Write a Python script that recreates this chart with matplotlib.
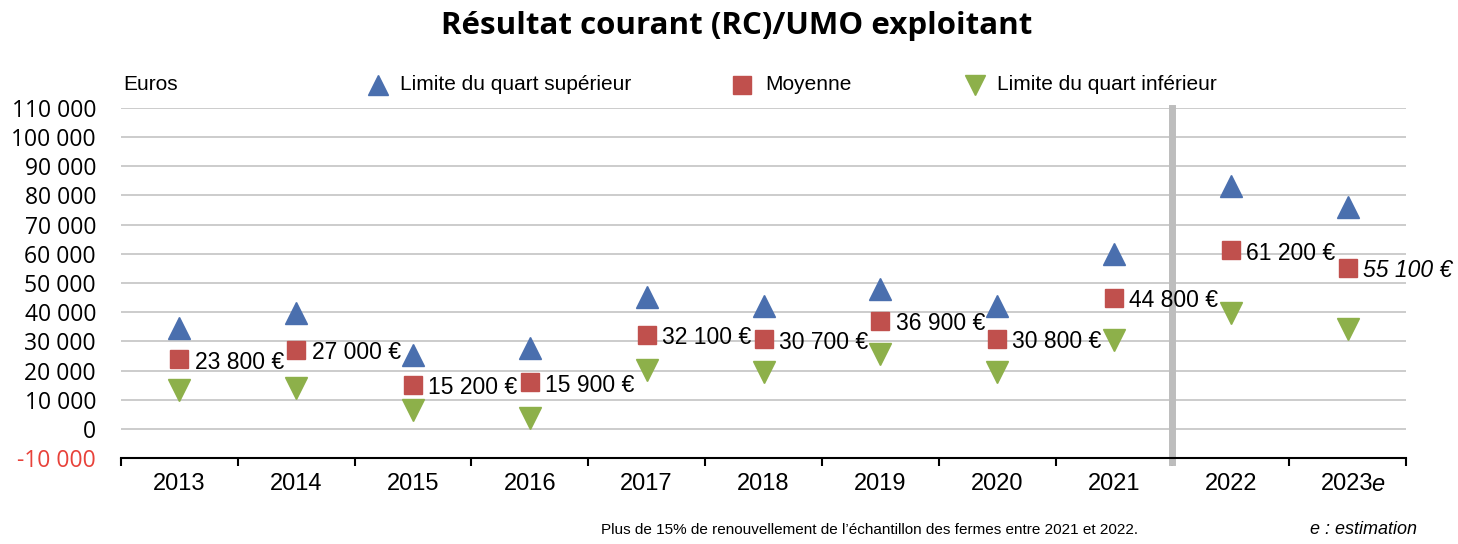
import numpy as np
import matplotlib.pyplot as plt

years = ['2013', '2014', '2015', '2016', '2017', '2018', '2019', '2020', '2021', '2022', '2023']
quart_sup = [34600, 39700, 25300, 27700, 45200, 42100, 47900, 42100, 59900, 83200, 76000]
moyenne = [23800, 27000, 15200, 15900, 32100, 30700, 36900, 30800, 44800, 61200, 55100]
quart_inf = [13400, 14000, 6500, 3800, 20200, 19500, 25700, 19500, 30500, 39700, 34200]
yticks = list(range(-10000, 110001, 10000))

BLUE = '#4a6fae'
RED = '#c0504d'
GREEN = '#8db04a'

def fr(v):
    return f'{v:,}'.replace(',', ' ')

fig = plt.figure(figsize=(14.58, 5.44), dpi=100)
ax = fig.add_axes([121 / 1458, 1 - 458 / 544, (1406 - 121) / 1458, (458 - 108) / 544])

x = np.arange(len(years))
ax.plot(x, quart_sup, ls='none', marker='^', ms=16, color=BLUE, zorder=3)
ax.plot(x, moyenne, ls='none', marker='s', ms=13.5, color=RED, zorder=3)
ax.plot(x, quart_inf, ls='none', marker='v', ms=16, color=GREEN, zorder=3)

# etiquettes des moyennes
for i, v in enumerate(moyenne):
    style = 'italic' if i == len(moyenne) - 1 else 'normal'
    ax.annotate(fr(v) + ' €', (x[i], v), xytext=(11, -2), textcoords='offset points',
                va='center', ha='left', fontsize=16.5, family='Liberation Sans',
                style=style, zorder=4)

# séparation 2021/2022
ax.axvline(8.5, ymin=-0.01, ymax=1.0, color='#bdbdbd', lw=5, zorder=2, clip_on=False)

ax.set_xlim(-0.5, 10.5)
ax.set_ylim(-10000, 110000)
ax.set_yticks(yticks)
ax.set_yticklabels([fr(t) for t in yticks], fontsize=16.5, family='Open Sans')
ax.get_yticklabels()[0].set_color('#e8423a')
ax.tick_params(axis='y', length=0, pad=18)
for t in yticks[1:]:
    ax.axhline(t, color='#c8c8c8', lw=1.3, zorder=1)

ax.set_xticks(np.arange(-0.5, 11, 1))
ax.set_xticklabels([])
ax.set_xticks(x, minor=True)
ax.set_xticklabels(years, minor=True, fontsize=17, family='Liberation Sans')
ax.tick_params(axis='x', which='major', length=6, width=1.5, direction='out')
ax.tick_params(axis='x', which='minor', length=0, pad=11)
ax.annotate('e', (x[-1], 0), xycoords=ax.get_xaxis_transform(), xytext=(17, -11),
            textcoords='offset points', fontsize=17, style='italic',
            family='Liberation Sans', va='top', ha='left')

for s in ['top', 'right', 'left']:
    ax.spines[s].set_visible(False)
ax.spines['bottom'].set_linewidth(1.5)

# titre et légende
fig.text(0.505, 0.952, 'Résultat courant (RC)/UMO exploitant', ha='center', va='center',
         fontsize=22.5, fontweight='bold', family='Open Sans')
ly = 1 - 85 / 544
fig.text(123 / 1458, ly, 'Euros', ha='left', va='center', fontsize=15, family='Liberation Sans')
legend = [(378, 400, '^', BLUE, 'Limite du quart supérieur'),
          (742, 765, 's', RED, 'Moyenne'),
          (975, 997, 'v', GREEN, 'Limite du quart inférieur')]
for mx, tx, mk, col, lab in legend:
    ax.plot([mx / 1458], [ly], marker=mk, ms=15 if mk != 's' else 13.5, color=col,
            transform=fig.transFigure, clip_on=False)
    fig.text(tx / 1458, ly, lab, ha='left', va='center', fontsize=15, family='Liberation Sans')

fig.text(870 / 1458, 0.013, "Plus de 15% de renouvellement de l’échantillon des fermes entre 2021 et 2022.",
         ha='center', va='bottom', fontsize=11, family='Liberation Sans')
fig.text(1310 / 1458, 1 - 530 / 544, 'e : estimation', ha='left', va='center', fontsize=13,
         style='italic', family='Liberation Sans')

fig.savefig('out.png', dpi=100)
